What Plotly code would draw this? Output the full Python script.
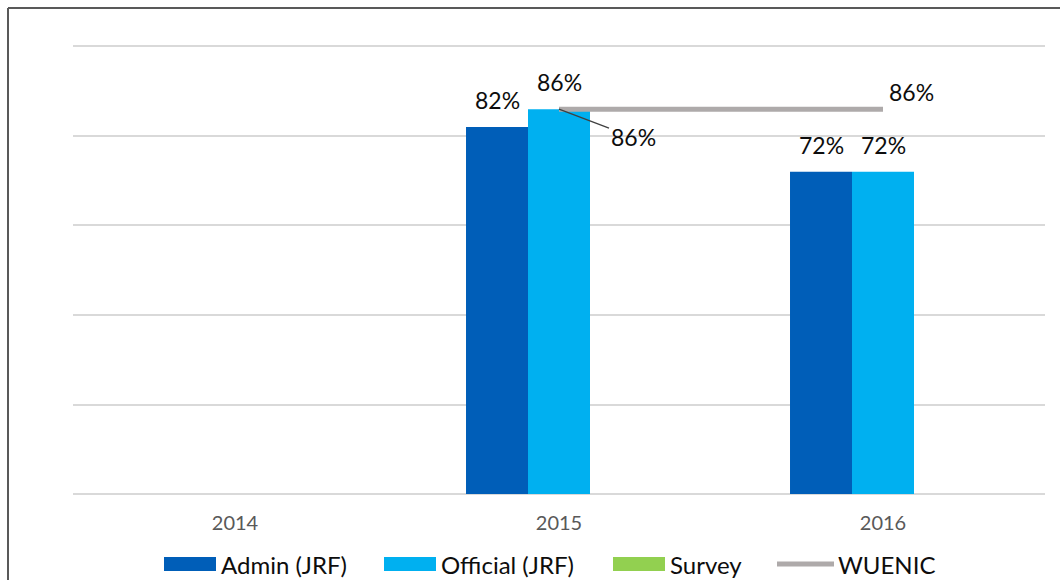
import plotly.graph_objects as go

# ---- data ----
years = ["2014", "2015", "2016"]
admin_jrf = [None, 82, 72]
official_jrf = [None, 86, 72]
survey = [None, None, None]
wuenic_years = ["2015", "2016"]
wuenic = [86, 86]

series_names = ["Admin (JRF)", "Official (JRF)", "Survey", "WUENIC"]
colors = ["#005EB8", "#00B0F0", "#92D050", "#AEAAAA"]

FONT = "Lato, 'Open Sans', sans-serif"
W, H = 1060, 580
ML, MR, MT, MB = 73, 15, 42, 86
PW = W - ML - MR
PH = H - MT - MB
BARGAP = 0.426
YMAX = 101


def px_x(p):
    return (p - ML) / PW


def px_y(p):
    return (H - MB - p) / PH


def cat_idx(yr):
    return years.index(yr)


fig = go.Figure()
bar_series = [admin_jrf, official_jrf, survey]
for name, vals, col in zip(series_names[:3], bar_series, colors[:3]):
    fig.add_trace(go.Bar(x=years, y=vals, name=name, marker_color=col,
                         marker_line_width=0, showlegend=False))

fig.add_trace(go.Scatter(x=wuenic_years, y=wuenic, name="WUENIC", mode="lines",
                         line=dict(color=colors[3], width=5), showlegend=False))

# bar geometry for label placement
cat_px = PW / len(years)
bar_px = cat_px * (1 - BARGAP) / len(bar_series)

annotations = []
for i, vals in enumerate(bar_series):
    for yr, v in zip(years, vals):
        if v is None:
            continue
        annotations.append(dict(x=cat_idx(yr), y=v, text=f"{v}%", showarrow=False,
                                xshift=(i - 1) * bar_px, yshift=27,
                                yanchor="middle",
                                font=dict(family=FONT, size=23, color="#0d0d0d")))

# WUENIC labels
annotations.append(dict(x=cat_idx(wuenic_years[0]), y=wuenic[0], text=f"{wuenic[0]}%",
                        showarrow=True, arrowhead=0, arrowwidth=1.3,
                        arrowcolor="#404040", ax=74, ay=28, standoff=0,
                        font=dict(family=FONT, size=23, color="#0d0d0d")))
annotations.append(dict(x=cat_idx(wuenic_years[-1]), y=wuenic[-1], text=f"{wuenic[-1]}%",
                        showarrow=False, xanchor="left", yanchor="middle",
                        xshift=4, yshift=17,
                        font=dict(family=FONT, size=23, color="#0d0d0d")))

# custom legend
shapes = []
legend_items = [
    ("bar", 164, 216, 219),
    ("bar", 384, 436, 439),
    ("bar", 613, 665, 668),
    ("line", 777, 834, 836),
]
ly = 564
for (kind, x0, x1, tx), name, col in zip(legend_items, series_names, colors):
    if kind == "bar":
        shapes.append(dict(type="rect", xref="paper", yref="paper",
                           x0=px_x(x0), x1=px_x(x1), y0=px_y(571), y1=px_y(557),
                           fillcolor=col, line=dict(width=0)))
    else:
        shapes.append(dict(type="line", xref="paper", yref="paper",
                           x0=px_x(x0), x1=px_x(x1), y0=px_y(ly), y1=px_y(ly),
                           line=dict(color=col, width=5)))
    annotations.append(dict(xref="paper", yref="paper", x=px_x(tx), y=px_y(ly),
                            xanchor="left", yanchor="middle", text=name,
                            showarrow=False,
                            font=dict(family=FONT, size=24, color="#0d0d0d")))

# outer border (top and left)
shapes.append(dict(type="line", xref="paper", yref="paper",
                   x0=px_x(8), x1=px_x(W + 5), y0=px_y(8), y1=px_y(8),
                   line=dict(color="#595959", width=2)))
shapes.append(dict(type="line", xref="paper", yref="paper",
                   x0=px_x(8), x1=px_x(8), y0=px_y(8), y1=px_y(H + 5),
                   line=dict(color="#595959", width=2)))

fig.update_layout(
    width=W, height=H,
    margin=dict(l=ML, r=MR, t=MT, b=MB),
    paper_bgcolor="white", plot_bgcolor="white",
    barmode="group", bargap=BARGAP, bargroupgap=0,
    showlegend=False,
    annotations=annotations, shapes=shapes,
    xaxis=dict(type="category", categoryorder="array", categoryarray=years,
               range=[-0.5, len(years) - 0.5],
               showgrid=False, zeroline=False, showline=False,
               ticks="", ticklabelstandoff=15,
               tickfont=dict(family=FONT, size=20, color="#595959")),
    yaxis=dict(range=[0, YMAX], tickvals=[0, 20, 40, 60, 80, 100],
               showticklabels=False,
               showgrid=True, gridcolor="#D9D9D9", gridwidth=1.5,
               zeroline=True, zerolinecolor="#D9D9D9", zerolinewidth=1.5,
               showline=False),
)

fig.write_html("out.html")
